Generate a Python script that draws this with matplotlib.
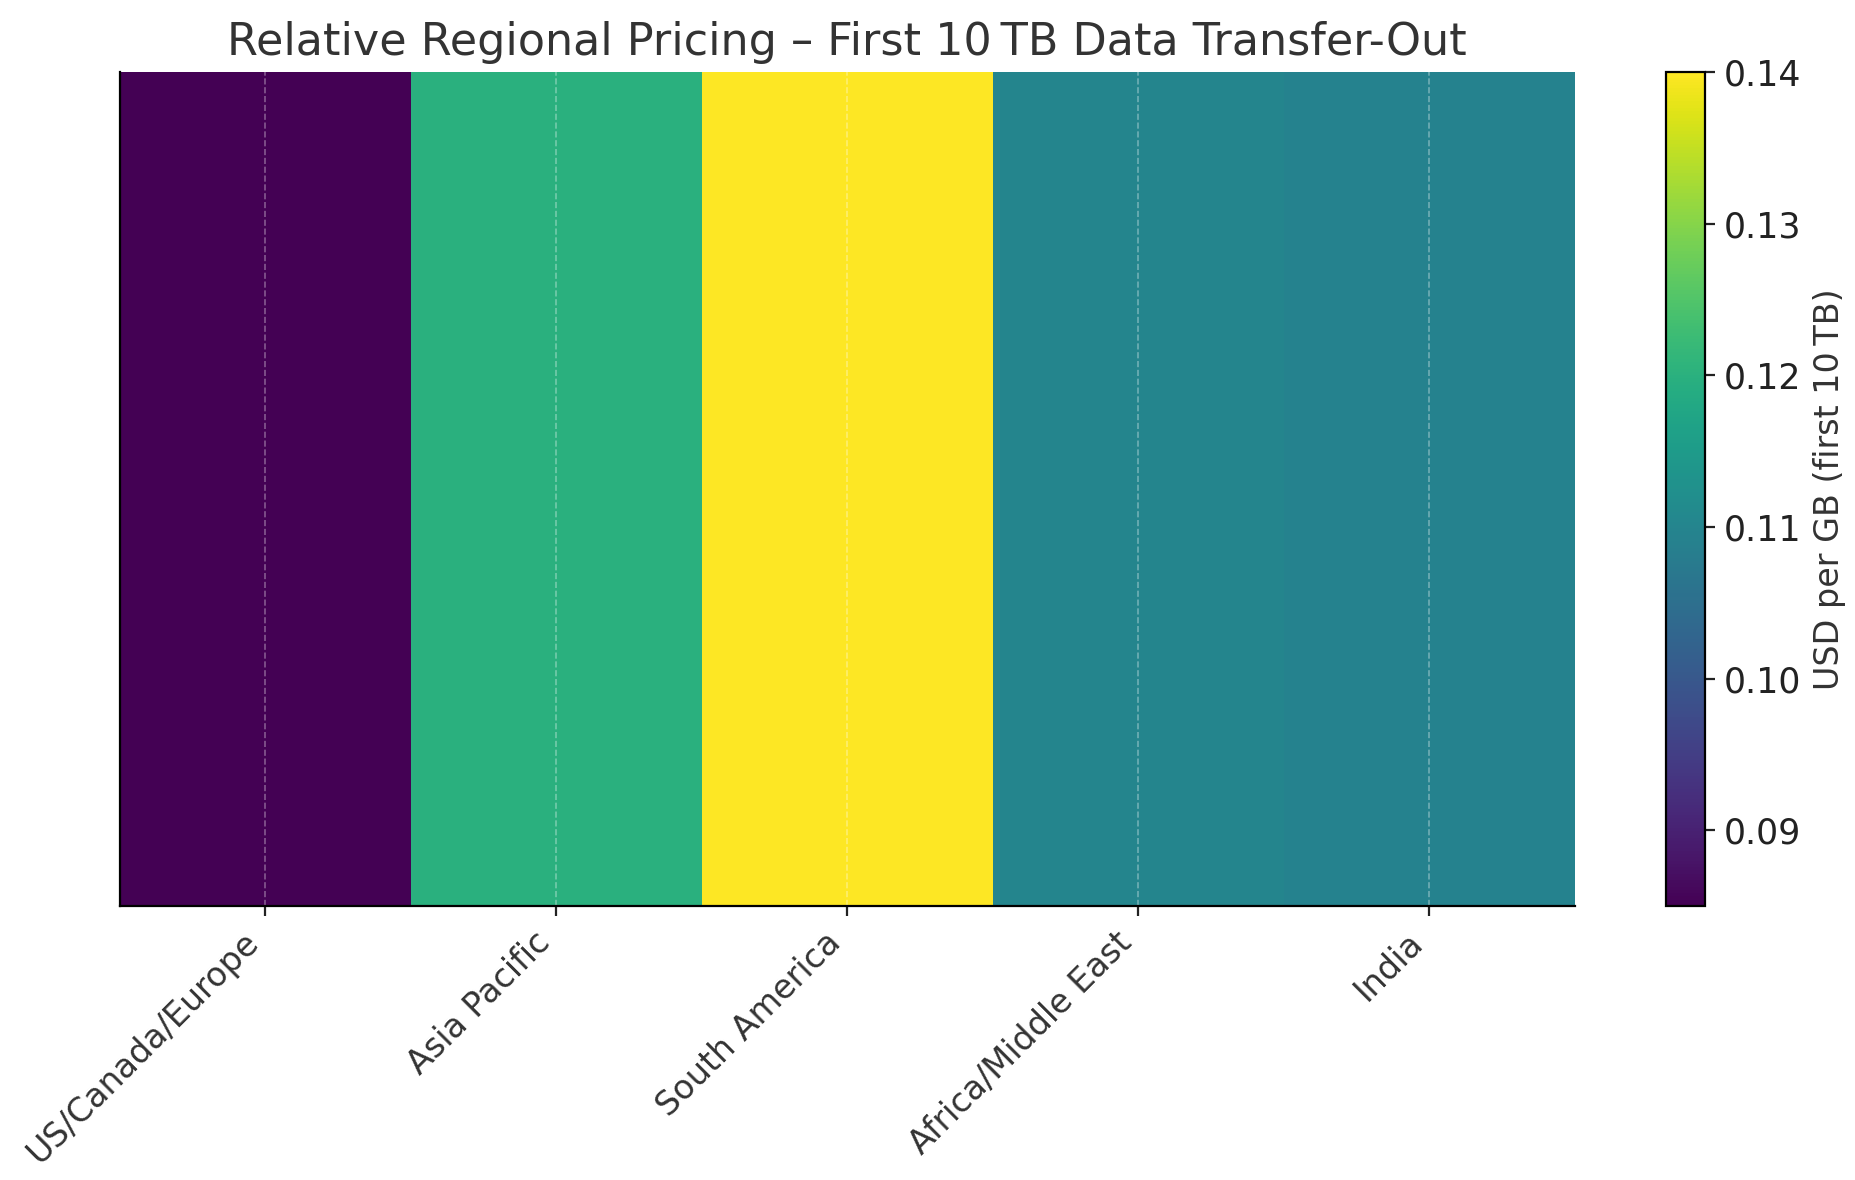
import numpy as np
import matplotlib
matplotlib.use("Agg")
import matplotlib.pyplot as plt

# regions and USD/GB price for the first 10 TB out
regions = ["US/Canada/Europe", "Asia Pacific", "South America",
           "Africa/Middle East", "India"]
price = [0.085, 0.120, 0.140, 0.110, 0.1093]

TEXT = "#333333"
plt.rcParams["text.color"] = TEXT
plt.rcParams["axes.labelcolor"] = TEXT
plt.rcParams["xtick.color"] = "#222222"
plt.rcParams["ytick.color"] = "#222222"
plt.rcParams["xtick.labelcolor"] = TEXT
plt.rcParams["ytick.labelcolor"] = "#222222"

fig = plt.figure(figsize=(9.275, 5.9), dpi=200)
ax = fig.add_axes([0.0647, 0.232, 0.7841, 0.707])
cax = fig.add_axes([0.898, 0.232, 0.021, 0.707])

data = np.array(price).reshape(1, -1)
im = ax.imshow(data, cmap="viridis", aspect="auto",
               vmin=min(price), vmax=max(price))

ax.set_xticks(range(len(regions)))
ax.set_xticklabels(regions, rotation=45, ha="right", fontsize=12)
ax.set_yticks([])
ax.grid(axis="x", linestyle="--", color="white", alpha=0.35, linewidth=0.6)
ax.set_title("Relative Regional Pricing \u2013 First 10\u202fTB Data Transfer-Out",
             fontsize=16, color=TEXT)

for s in ["top", "right"]:
    ax.spines[s].set_visible(False)

cb = fig.colorbar(im, cax=cax)
cb.set_label("USD per GB (first 10\u202fTB)", fontsize=12)
cb.ax.tick_params(labelsize=12.5)

fig.savefig("out.png", dpi=200)
